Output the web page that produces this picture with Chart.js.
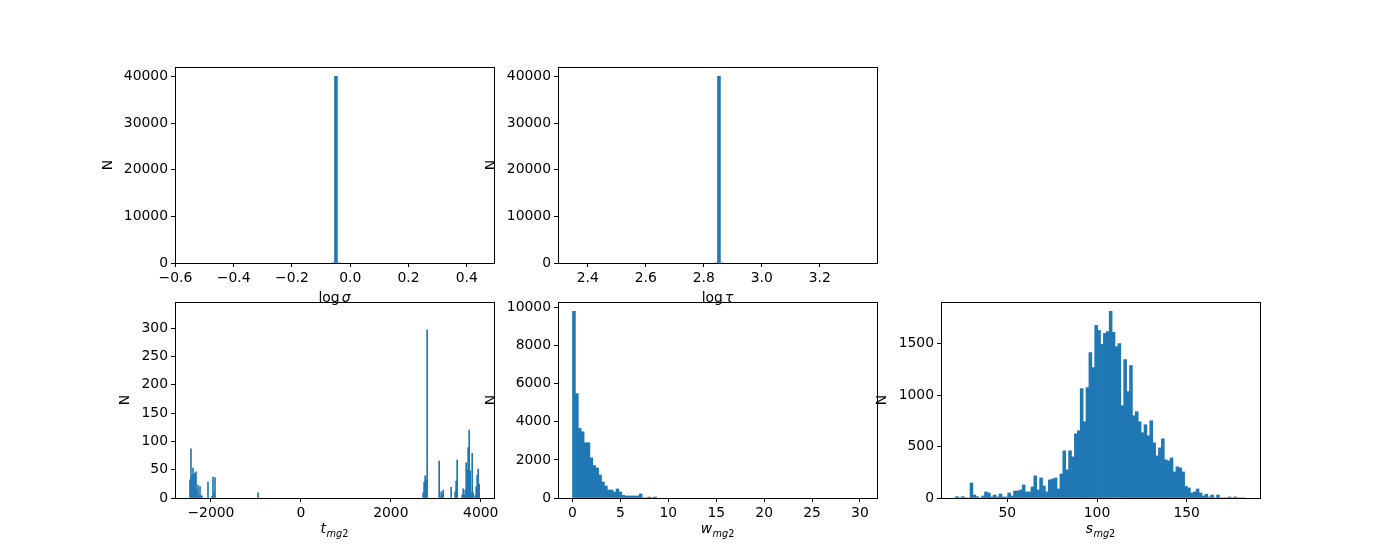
<!DOCTYPE html>
<html>
<head>
<meta charset="utf-8">
<title>Posterior histograms</title>
<script src="https://cdn.jsdelivr.net/npm/chart.js@4.4.1/dist/chart.umd.min.js"></script>
<style>
    html, body { margin: 0; padding: 0; background: #fff; }
    #fig { position: relative; width: 1400px; height: 560px; overflow: hidden; background: #fff; }
    #fig canvas { position: absolute; }
</style>
</head>
<body>
<div id="fig">
    <canvas id="sigmaHist"></canvas>
    <canvas id="tauHist"></canvas>
    <canvas id="tHist"></canvas>
    <canvas id="wHist"></canvas>
    <canvas id="sHist"></canvas>
</div>
<script>
// ---- data (bin edges start + width, bin index, counts) ----

// log sigma: all samples fall in one bin
const sigmaBinLo = -0.554;
const sigmaBinWidth = 0.01;
const sigmaBins = [49, 50, 51];
const sigmaCounts = [0, 40000, 0];
const sigmaRange = [-0.6015, 0.4935];
const sigmaTicks = [-0.6, -0.4, -0.2, 0.0, 0.2, 0.4];

// log tau: same story
const tauBinLo = 2.3475;
const tauBinWidth = 0.01;
const tauBins = [49, 50, 51];
const tauCounts = [0, 40000, 0];
const tauRange = [2.2975, 3.3975];
const tauTicks = [2.4, 2.6, 2.8, 3.0, 3.2];

const bigYTicks = [0, 10000, 20000, 30000, 40000];
const bigYMax = 42000;

// t_mg2: sparse, only non-empty bins listed
const tBinLo = -2477;
const tBinWidth = 22.25;
const tBins = [
    0, 1, 2, 3, 4, 5, 6, 7, 8, 9, 10, 11, 12,
    18, 22, 23, 24, 25,
    68,
    233, 234, 235, 236, 237,
    249, 250, 251, 252, 253,
    261,
    265, 266, 267,
    272, 273, 274, 275, 276, 277, 278, 279, 280, 281, 282, 283,
    285, 286, 287, 288, 289
];
const tCounts = [
    32, 87, 39, 53, 43, 44, 46, 14, 23, 4, 20, 4, 4,
    28, 3, 37, 9, 36,
    9,
    9, 28, 39, 32, 297,
    65, 2, 11, 6, 14,
    19,
    11, 30, 67,
    5, 16, 5, 14, 62, 50, 89, 120, 48, 9, 79, 9,
    4, 20, 40, 51, 24
];
const tRange = [-2799, 4294];
const tTicks = [-2000, 0, 2000, 4000];
const tYTicks = [0, 50, 100, 150, 200, 250, 300];
const tYMax = 346;

// w_mg2
const wBinLo = 0;
const wBinWidth = 0.3027;
const wCounts = [
    9800, 5480, 3650, 3480, 2900, 2900, 2110, 1700, 1580, 1210,
    840, 630, 420, 420, 316, 474, 316, 140, 105, 105,
    105, 105, 105, 210, 0, 0, 50, 0, 50
];
const wRange = [-1.513, 31.78];
const wTicks = [0, 5, 10, 15, 20, 25, 30];
const wYTicks = [0, 2000, 4000, 6000, 8000, 10000];
const wYMax = 10290;

// s_mg2
const sBinLo = 21.1;
const sBinWidth = 1.617;
const sCounts = [
    13, 0, 13, 0, 0, 146, 29, 13, 0, 20,
    59, 49, 10, 29, 10, 39, 10, 10, 49, 20,
    68, 68, 78, 127, 59, 59, 107, 215, 78, 195,
    117, 59, 176, 185, 195, 88, 234, 459, 273, 459,
    400, 625, 654, 1064, 742, 1074, 1415, 1269, 1679, 1630,
    1494, 1601, 1620, 1816, 1611, 1474, 1503, 898, 1347, 1035,
    1289, 800, 840, 742, 635, 713, 605, 752, 537, 410,
    488, 576, 371, 361, 390, 254, 303, 293, 254, 114,
    98, 49, 59, 88, 49, 20, 36, 10, 29, 0,
    29, 0, 0, 0, 10, 0, 10, 0, 0, 0
];
const sRange = [13.0, 190.9];
const sTicks = [50, 100, 150];
const sYTicks = [0, 500, 1000, 1500];
const sYMax = 1907;

// ---- layout (axes boxes in page pixels, like matplotlib subplot 2x3) ----
const FONT = 'DejaVu Sans';
const FS = 13.9;
const BAR = '#1f77b4';
const PAD_L = 90, PAD_T = 15, PAD_R = 12, PAD_B = 50;

const boxes = {
    sigma: { x: 175, y: 67, w: 319, h: 196 },
    tau:   { x: 558, y: 67, w: 319, h: 196 },
    t:     { x: 175, y: 302, w: 319, h: 196 },
    w:     { x: 558, y: 302, w: 319, h: 196 },
    s:     { x: 941, y: 302, w: 319, h: 196 }
};

function histPoints(lo, width, bins, counts) {
    return counts.map((c, i) => ({ x: lo + ((bins ? bins[i] : i) + 0.5) * width, y: c }));
}

function fmt(decimals) {
    return v => (v < 0 ? '\u2212' : '') + Math.abs(v).toFixed(decimals);
}

// full box round the plot area, like matplotlib spines
const framePlugin = {
    id: 'frame',
    afterDatasetsDraw(chart) {
        const { ctx, chartArea: a } = chart;
        ctx.save();
        ctx.strokeStyle = '#000';
        ctx.lineWidth = 1;
        ctx.strokeRect(a.left + 0.5, a.top + 0.5, a.right - a.left, a.bottom - a.top);
        ctx.restore();
    }
};

// x label with italic maths and subscripts
function xLabelPlugin(parts, baseline) {
    return {
        id: 'xLabel',
        afterDraw(chart) {
            const { ctx, chartArea: a } = chart;
            ctx.save();
            const runs = parts.map(p => {
                const size = p.sub ? FS * 0.7 : FS;
                const font = (p.italic ? 'italic ' : '') + size + 'px "' + FONT + '"';
                ctx.font = font;
                return { p, font, w: ctx.measureText(p.text).width };
            });
            const total = runs.reduce((acc, r) => acc + r.w + (r.p.gap || 0), 0);
            let x = (a.left + a.right) / 2 - total / 2;
            const y = a.bottom + baseline;
            ctx.fillStyle = '#000';
            ctx.textAlign = 'left';
            ctx.textBaseline = 'alphabetic';
            runs.forEach(r => {
                x += r.p.gap || 0;
                ctx.font = r.font;
                ctx.fillText(r.p.text, x, y + (r.p.sub ? 3.5 : 0));
                x += r.w;
            });
            ctx.restore();
        }
    };
}

function makeHist(id, box, cfg) {
    const canvas = document.getElementById(id);
    canvas.width = box.w + PAD_L + PAD_R;
    canvas.height = box.h + PAD_T + PAD_B;
    canvas.style.left = (box.x - PAD_L) + 'px';
    canvas.style.top = (box.y - PAD_T) + 'px';

    const tickFont = { family: FONT, size: FS };
    const gridOpts = { drawOnChartArea: false, drawTicks: true, tickLength: 4, color: '#000', lineWidth: 1, offset: false };

    return new Chart(canvas, {
        type: 'bar',
        data: {
            datasets: [{
                data: cfg.points,
                backgroundColor: BAR,
                borderWidth: 0,
                barPercentage: 1,
                categoryPercentage: 1,
                inflateAmount: cfg.inflate === undefined ? 'auto' : cfg.inflate
            }]
        },
        options: {
            responsive: false,
            animation: false,
            events: [],
            layout: { padding: { left: 0, top: PAD_T, right: PAD_R, bottom: 0 } },
            plugins: {
                legend: { display: false },
                tooltip: { enabled: false }
            },
            scales: {
                x: {
                    type: 'linear',
                    offset: false,
                    min: cfg.xRange[0],
                    max: cfg.xRange[1],
                    afterBuildTicks: s => { s.ticks = cfg.xTicks.map(v => ({ value: v })); },
                    afterFit: s => { s.height = PAD_B; },
                    grid: gridOpts,
                    border: { display: false },
                    ticks: {
                        callback: fmt(cfg.xDecimals || 0),
                        font: tickFont,
                        color: '#000',
                        padding: 3,
                        maxRotation: 0,
                        autoSkip: false,
                        includeBounds: false
                    }
                },
                y: {
                    type: 'linear',
                    min: 0,
                    max: cfg.yMax,
                    afterBuildTicks: s => { s.ticks = cfg.yTicks.map(v => ({ value: v })); },
                    afterFit: s => { s.width = PAD_L; },
                    grid: gridOpts,
                    border: { display: false },
                    ticks: {
                        callback: fmt(0),
                        font: tickFont,
                        color: '#000',
                        padding: 3,
                        autoSkip: false,
                        includeBounds: false
                    },
                    title: {
                        display: true,
                        text: 'N',
                        color: '#000',
                        font: { family: FONT, size: FS, lineHeight: 1.2 },
                        padding: { top: cfg.nPad, bottom: 0 }
                    }
                }
            }
        },
        plugins: [framePlugin, xLabelPlugin(cfg.label, cfg.labelBaseline)]
    });
}

makeHist('sigmaHist', boxes.sigma, {
    points: histPoints(sigmaBinLo, sigmaBinWidth, sigmaBins, sigmaCounts),
    xRange: sigmaRange, xTicks: sigmaTicks, xDecimals: 1,
    yTicks: bigYTicks, yMax: bigYMax, nPad: 14.6,
    label: [{ text: 'log' }, { text: '\u03c3', italic: true, gap: 2 }],
    labelBaseline: 39
});

makeHist('tauHist', boxes.tau, {
    points: histPoints(tauBinLo, tauBinWidth, tauBins, tauCounts),
    xRange: tauRange, xTicks: tauTicks, xDecimals: 1,
    yTicks: bigYTicks, yMax: bigYMax, nPad: 14.6,
    label: [{ text: 'log' }, { text: '\u03c4', italic: true, gap: 2 }],
    labelBaseline: 39
});

makeHist('tHist', boxes.t, {
    points: histPoints(tBinLo, tBinWidth, tBins, tCounts),
    xRange: tRange, xTicks: tTicks,
    yTicks: tYTicks, yMax: tYMax, nPad: 31.9,
    inflate: 0.33,
    label: [{ text: 't', italic: true }, { text: 'mg', italic: true, sub: true, gap: 0.5 }, { text: '2', sub: true }],
    labelBaseline: 35
});

makeHist('wHist', boxes.w, {
    points: histPoints(wBinLo, wBinWidth, null, wCounts),
    xRange: wRange, xTicks: wTicks,
    yTicks: wYTicks, yMax: wYMax, nPad: 14.6,
    label: [{ text: 'w', italic: true }, { text: 'mg', italic: true, sub: true, gap: 0.5 }, { text: '2', sub: true }],
    labelBaseline: 35
});

makeHist('sHist', boxes.s, {
    points: histPoints(sBinLo, sBinWidth, null, sCounts),
    xRange: sRange, xTicks: sTicks,
    yTicks: sYTicks, yMax: sYMax, nPad: 23.1,
    label: [{ text: 's', italic: true }, { text: 'mg', italic: true, sub: true, gap: 0.5 }, { text: '2', sub: true }],
    labelBaseline: 35
});
</script>
</body>
</html>
